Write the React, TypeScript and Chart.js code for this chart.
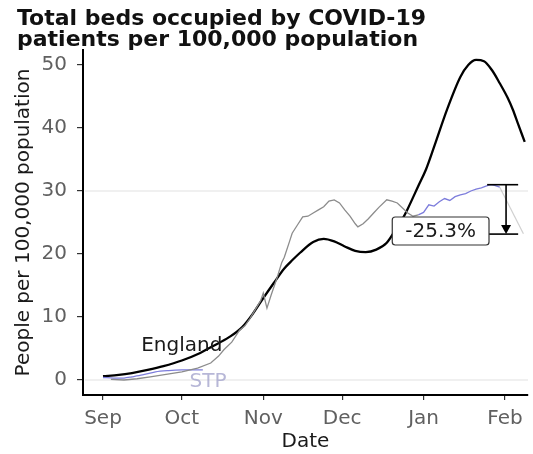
import React, { useEffect, useRef } from 'react';
import { Chart, registerables } from 'chart.js';

Chart.register(...registerables);

// Days counted from 1 September
const monthLabels = ['Sep', 'Oct', 'Nov', 'Dec', 'Jan', 'Feb'];
const monthDays = [0, 30, 61, 91, 122, 153];
const yTickValues = [0, 10, 20, 30, 40, 50];

const englandDays = [0, 6, 11, 17, 23, 30, 37, 41, 48, 53, 57, 61, 65, 69, 72, 75, 80, 84, 88, 92, 96, 100, 104, 108, 112, 114, 116, 120, 123, 126, 131, 136, 139, 142, 145, 148, 151, 154, 156, 158, 160.5];
const englandValues = [0.6, 0.8, 1.1, 1.6, 2.2, 3.1, 4.3, 5.2, 6.8, 8.4, 10.5, 13.0, 15.4, 17.7, 19.0, 20.2, 21.9, 22.4, 22.0, 21.2, 20.5, 20.3, 20.7, 21.8, 24.3, 25.6, 27.2, 30.8, 33.5, 37.0, 43.0, 48.1, 50.0, 50.8, 50.6, 49.2, 47.1, 44.8, 42.9, 40.6, 37.8];

const stpGreyDays = [3, 8, 13, 18, 24, 30, 36, 41, 44, 46, 49, 52, 54, 56, 58, 60, 61, 62.4, 64, 66, 68, 69, 71, 72, 74, 76, 78, 80, 82, 84, 86, 88, 90, 92, 94, 96, 97, 99, 101, 103, 105, 108, 110, 112, 114, 116, 118, 120];
const stpGreyValues = [0.1, 0.0, 0.2, 0.5, 0.9, 1.3, 1.9, 2.7, 3.8, 4.8, 6.0, 7.9, 8.6, 9.8, 11.2, 12.6, 13.8, 11.4, 13.5, 15.9, 18.6, 19.5, 22.0, 23.3, 24.6, 25.9, 26.0, 26.5, 27.0, 27.5, 28.4, 28.6, 28.1, 27.0, 26.0, 24.8, 24.3, 24.8, 25.6, 26.5, 27.4, 28.6, 28.4, 28.1, 27.3, 26.5, 26.0, 26.2];

const stpBlueEarlyDays = [0, 4, 8, 11, 15, 20, 25, 30, 35, 38];
const stpBlueEarlyValues = [0.4, 0.3, 0.3, 0.5, 0.8, 1.3, 1.5, 1.6, 1.6, 1.6];
const stpBlueLateDays = [120, 122, 124, 126, 128, 130, 132, 134, 136, 138, 140, 142, 144, 146, 147.5, 149, 151];
const stpBlueLateValues = [26.2, 26.6, 27.8, 27.6, 28.3, 28.8, 28.5, 29.1, 29.4, 29.6, 30.0, 30.3, 30.5, 30.8, 31.0, 30.9, 30.6];

const projectionDays = [151, 160];
const projectionValues = [30.6, 23.2];

const referenceLines = [0, 30];
const arrowDay = 153.4;
const arrowFrom = 31.0;
const arrowTo = 23.16;
const capStartDay = 146.2;
const capEndDay = 158;
const changeLabel = '-25.3%';
const changeLabelDay = 128.5;
const changeLabelValue = 23.65;
const englandLabelDay = 30;
const englandLabelValue = 5.4;
const stpLabelDay = 40;
const stpLabelValue = -0.3;

const titleLines = ['Total beds occupied by COVID-19', 'patients per 100,000 population'];

const pts = (xs: number[], ys: number[]) => xs.map((d, i) => ({ x: d, y: ys[i] }));

const FONT = "'DejaVu Sans', sans-serif";

const overlayPlugin = {
  id: 'overlay',
  beforeDatasetsDraw(chart: any) {
    const { ctx, chartArea, scales } = chart;
    const y = scales.y;
    ctx.save();
    ctx.strokeStyle = 'rgba(0,0,0,0.06)';
    ctx.lineWidth = 2;
    for (const v of referenceLines) {
      const py = y.getPixelForValue(v);
      ctx.beginPath();
      ctx.moveTo(chartArea.left + 2, py);
      ctx.lineTo(chartArea.right, py);
      ctx.stroke();
    }
    ctx.restore();
  },
  afterDatasetsDraw(chart: any) {
    const { ctx, scales } = chart;
    const x = scales.x;
    const y = scales.y;
    ctx.save();
    ctx.font = `20px ${FONT}`;
    ctx.textAlign = 'center';
    ctx.textBaseline = 'middle';
    ctx.fillStyle = '#1a1a1a';
    ctx.fillText('England', x.getPixelForValue(englandLabelDay), y.getPixelForValue(englandLabelValue));
    ctx.fillStyle = 'rgba(165,165,205,0.8)';
    ctx.fillText('STP', x.getPixelForValue(stpLabelDay), y.getPixelForValue(stpLabelValue));

    const ax = x.getPixelForValue(arrowDay);
    const top = y.getPixelForValue(arrowFrom);
    const bot = y.getPixelForValue(arrowTo);
    const c0 = x.getPixelForValue(capStartDay);
    const c1 = x.getPixelForValue(capEndDay);
    ctx.strokeStyle = '#000';
    ctx.fillStyle = '#000';
    ctx.lineWidth = 1.6;
    ctx.beginPath();
    ctx.moveTo(c0, top);
    ctx.lineTo(c1, top);
    ctx.stroke();
    ctx.beginPath();
    ctx.moveTo(ax, top);
    ctx.lineTo(ax, bot - 8);
    ctx.stroke();
    ctx.beginPath();
    ctx.moveTo(ax - 5, bot - 9);
    ctx.lineTo(ax + 5, bot - 9);
    ctx.lineTo(ax, bot);
    ctx.closePath();
    ctx.fill();

    const lx = x.getPixelForValue(changeLabelDay);
    const ly = y.getPixelForValue(changeLabelValue);
    ctx.font = `20px ${FONT}`;
    const tw = ctx.measureText(changeLabel).width;
    const bw = tw + 26;
    const bh = 28;
    const bx = lx - bw / 2;
    const by = ly - bh / 2;
    ctx.beginPath();
    ctx.moveTo(bx + bw, bot);
    ctx.lineTo(c1, bot);
    ctx.stroke();
    ctx.beginPath();
    (ctx as any).roundRect ? (ctx as any).roundRect(bx, by, bw, bh, 3) : ctx.rect(bx, by, bw, bh);
    ctx.fillStyle = '#fff';
    ctx.fill();
    ctx.strokeStyle = '#333';
    ctx.lineWidth = 1.2;
    ctx.stroke();
    ctx.fillStyle = '#1a1a1a';
    ctx.textAlign = 'center';
    ctx.textBaseline = 'middle';
    ctx.fillText(changeLabel, lx, ly + 1);
    ctx.restore();
  },
  afterDraw(chart: any) {
    const { ctx } = chart;
    ctx.save();
    ctx.font = `bold 22px ${FONT}`;
    ctx.fillStyle = '#111';
    ctx.textAlign = 'left';
    ctx.textBaseline = 'alphabetic';
    ctx.fillText(titleLines[0], 17, 25);
    ctx.fillText(titleLines[1], 17, 46);
    ctx.restore();
  },
};

export default function App() {
  const ref = useRef<HTMLCanvasElement | null>(null);
  useEffect(() => {
    if (!ref.current) return;
    const chart = new Chart(ref.current, {
      type: 'line',
      data: {
        datasets: [
          { label: 'Projection', data: pts(projectionDays, projectionValues), borderColor: 'rgba(150,150,150,0.45)', borderWidth: 1.2, pointRadius: 0, tension: 0 },
          { label: 'STP (grey)', data: pts(stpGreyDays, stpGreyValues), borderColor: '#8c8c8c', borderWidth: 1.3, pointRadius: 0, tension: 0 },
          { label: 'STP early', data: pts(stpBlueEarlyDays, stpBlueEarlyValues), borderColor: 'rgb(125,125,220)', borderWidth: 1.3, pointRadius: 0, tension: 0.3 },
          { label: 'STP late', data: pts(stpBlueLateDays, stpBlueLateValues), borderColor: 'rgb(125,125,220)', borderWidth: 1.3, pointRadius: 0, tension: 0 },
          { label: 'England', data: pts(englandDays, englandValues), borderColor: '#000', borderWidth: 2.3, pointRadius: 0, tension: 0.4, cubicInterpolationMode: 'monotone' },
        ],
      },
      options: {
        responsive: false,
        animation: false,
        events: [],
        layout: { padding: { top: 50, right: 5, left: 0, bottom: 0 } },
        plugins: { legend: { display: false }, tooltip: { enabled: false }, title: { display: false } },
        scales: {
          x: {
            type: 'linear',
            min: -7.61,
            max: 161.75,
            afterFit: (s: any) => { s.height = 59; },
            afterBuildTicks: (s: any) => { s.ticks = monthDays.map((v) => ({ value: v })); },
            ticks: {
              callback: (_v: any, i: number) => monthLabels[i],
              font: { family: FONT, size: 20 },
              color: '#606060',
              padding: 7,
              maxRotation: 0,
              autoSkip: false,
            },
            grid: { display: true, drawOnChartArea: false, drawTicks: true, tickLength: 5, color: '#333', lineWidth: 1.2 },
            border: { display: true, color: '#000', width: 2 },
            title: { display: true, text: 'Date', font: { family: FONT, size: 20 }, color: '#1a1a1a', padding: { top: 0, bottom: 0 } },
          },
          y: {
            type: 'linear',
            min: -2.38,
            max: 52.38,
            afterFit: (s: any) => { s.width = 83; },
            afterBuildTicks: (s: any) => { s.ticks = yTickValues.map((v) => ({ value: v })); },
            ticks: { font: { family: FONT, size: 20 }, color: '#606060', padding: 10 },
            grid: { display: true, drawOnChartArea: false, drawTicks: true, tickLength: 6, color: '#333', lineWidth: 1.2 },
            border: { display: true, color: '#000', width: 2 },
            title: { display: true, text: 'People per 100,000 population', font: { family: FONT, size: 20 }, color: '#1a1a1a', padding: { top: 12, bottom: 0 } },
          },
        },
      },
      plugins: [overlayPlugin],
    } as any);
    return () => chart.destroy();
  }, []);
  return (
    <div style={{ position: 'absolute', left: 0, top: 0, width: 533, height: 454, background: '#fff' }}>
      <canvas ref={ref} width={533} height={454} />
    </div>
  );
}
